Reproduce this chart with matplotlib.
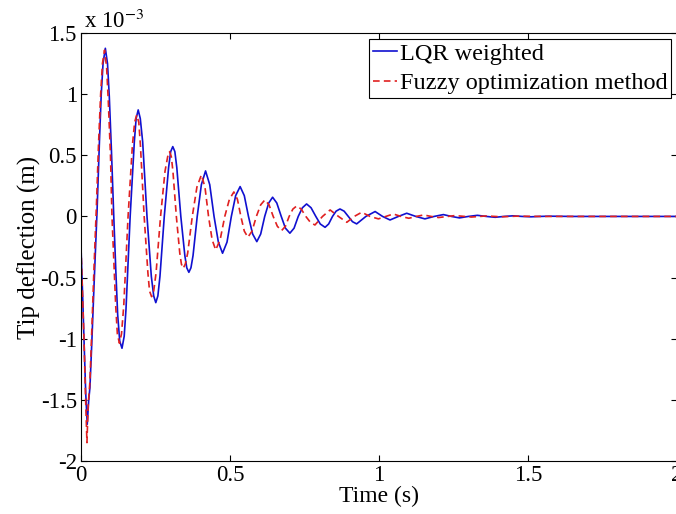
import matplotlib.pyplot as plt

plt.rcParams['font.family'] = ['Liberation Serif', 'DejaVu Serif']
plt.rcParams['mathtext.fontset'] = 'stix'

# values, deflection in units of 1e-3 m
t_lqr = [0.000, 0.006, 0.010, 0.016, 0.021, 0.026, 0.030, 0.036, 0.044, 0.054,
         0.062, 0.068, 0.074, 0.0817, 0.089, 0.095, 0.102, 0.110, 0.117, 0.123,
         0.130, 0.1376, 0.145, 0.151, 0.165, 0.179, 0.185, 0.192, 0.199, 0.207,
         0.2215, 0.236, 0.244, 0.251, 0.258, 0.265, 0.2795, 0.294, 0.301, 0.308,
         0.315, 0.3215, 0.335, 0.3485, 0.355, 0.362, 0.369, 0.376, 0.390,
         0.404, 0.418, 0.432, 0.4465, 0.461, 0.475, 0.490, 0.5045, 0.519, 0.534,
         0.548, 0.562, 0.576, 0.590, 0.603, 0.6165, 0.630, 0.643, 0.657, 0.672,
         0.686, 0.701, 0.715, 0.729, 0.743, 0.757, 0.772, 0.788, 0.803, 0.819,
         0.831, 0.844, 0.856, 0.869, 0.883, 0.897, 0.911, 0.925, 0.956, 0.987,
         1.012, 1.037, 1.065, 1.093, 1.1235, 1.154, 1.185, 1.216, 1.243, 1.270,
         1.300, 1.330, 1.360, 1.390, 1.420, 1.450, 1.480, 1.510, 1.540, 1.570,
         1.650, 2.000]
y_lqr = [-0.25, -0.68, -1.00, -1.45, -1.70, -1.50, -1.40, -1.05, -0.55, 0.05,
         0.62, 1.00, 1.25, 1.375, 1.25, 0.98, 0.55, 0.00, -0.45, -0.80,
         -1.02, -1.078, -0.98, -0.76, 0.00, 0.61, 0.80, 0.871, 0.80, 0.61,
         0.00, -0.49, -0.65, -0.705, -0.65, -0.49, 0.00, 0.40, 0.53, 0.571,
         0.53, 0.40, 0.00, -0.32, -0.42, -0.457, -0.42, -0.32, 0.00,
         0.26, 0.372, 0.26, 0.00, -0.21, -0.301, -0.21, 0.00, 0.17, 0.244,
         0.17, 0.00, -0.144, -0.206, -0.144, 0.00, 0.11, 0.157, 0.11, 0.00,
         -0.096, -0.137, -0.096, 0.00, 0.071, 0.102, 0.071, 0.00, -0.062, -0.089,
         -0.062, 0.00, 0.043, 0.061, 0.043, 0.00, -0.043, -0.061, 0.00, 0.040,
         0.00, -0.029, 0.00, 0.026, 0.00, -0.020, 0.00, 0.015, 0.00, -0.012,
         0.00, 0.009, 0.00, -0.007, 0.00, 0.005, 0.00, -0.003, 0.00, 0.002,
         0.00, 0.00]

t_fuzzy = [0.000, 0.006, 0.010, 0.015, 0.020, 0.024, 0.027, 0.030, 0.036, 0.044,
           0.052, 0.059, 0.066, 0.072, 0.079, 0.086, 0.0915, 0.099, 0.104, 0.1165,
           0.122, 0.129, 0.136, 0.1435, 0.158, 0.1725, 0.180, 0.187, 0.194, 0.1995,
           0.212, 0.2245, 0.230, 0.237, 0.244, 0.252,
           0.267, 0.282, 0.291, 0.297, 0.303, 0.3085, 0.320, 0.3315, 0.337, 0.343,
           0.350, 0.358, 0.3735, 0.389,
           0.404, 0.416, 0.428, 0.440, 0.452, 0.467, 0.4825, 0.498, 0.513, 0.525,
           0.5365, 0.548, 0.560, 0.574, 0.5885, 0.603, 0.617, 0.631, 0.645, 0.659,
           0.673, 0.686, 0.6985, 0.711, 0.724, 0.739, 0.7545, 0.770, 0.785, 0.8105,
           0.836, 0.864, 0.892, 0.917, 0.942, 0.970, 0.998, 1.023, 1.048, 1.074,
           1.100, 1.125, 1.150, 1.175, 1.200, 1.255, 1.310, 1.360, 1.410, 1.460,
           1.550, 2.000]
y_fuzzy = [-0.25, -0.70, -1.00, -1.45, -1.85, -1.55, -1.45, -1.35, -0.95, -0.40,
           0.10, 0.60, 1.00, 1.25, 1.36, 1.22, 0.95, 0.50, 0.00, -0.73,
           -0.96, -1.037, -0.96, -0.73, 0.00, 0.58, 0.77, 0.83, 0.77, 0.58,
           0.00, -0.46, -0.61, -0.656, -0.61, -0.46,
           0.00, 0.37, 0.49, 0.53, 0.49, 0.37, 0.00, -0.30, -0.39, -0.424,
           -0.39, -0.30, 0.00, 0.24,
           0.34, 0.24, 0.00, -0.19, -0.274, -0.19, 0.00, 0.14, 0.20, 0.14,
           0.00, -0.12, -0.17, -0.12, 0.00, 0.095, 0.135, 0.095, 0.00, -0.081,
           -0.116, -0.081, 0.00, 0.06, 0.086, 0.06, 0.00, -0.049, -0.07, 0.00,
           0.053, 0.00, -0.048, 0.00, 0.034, 0.00, -0.020, 0.00, 0.020, 0.00,
           -0.015, 0.00, 0.012, 0.00, -0.009, 0.007, -0.005, 0.004, -0.003, 0.002,
           0.00, 0.00]

fig = plt.figure(figsize=(6.76, 5.14), dpi=100)
ax = fig.add_axes([0.1198, 0.1031, 0.8817, 0.8327])

ax.plot(t_lqr, y_lqr, color='#1010d0', lw=1.2, label='LQR weighted')
ax.plot(t_fuzzy, y_fuzzy, color='#e02020', lw=1.2, ls=(0, (4, 2.5)),
        label='Fuzzy optimization method')

ax.set_xlim(0, 2)
ax.set_ylim(-2, 1.5)
ax.set_xticks([0, 0.5, 1, 1.5, 2])
ax.set_xticklabels(['0', '0.5', '1', '1.5', '2'])
ax.set_yticks([-2, -1.5, -1, -0.5, 0, 0.5, 1, 1.5])
ax.set_yticklabels(['-2', '-1.5', '-1', '-0.5', '0', '0.5', '1', '1.5'])
ax.tick_params(direction='in', length=4, width=0.8, top=True, right=True,
               labelsize=16.5, pad=3)
for s in ax.spines.values():
    s.set_linewidth(0.8)

ax.set_xlabel('Time (s)', fontsize=17, labelpad=0)
ax.set_ylabel('Tip deflection (m)', fontsize=18, labelpad=0)
ax.text(0.005, 1.0, r'x 10$^{-3}$', transform=ax.transAxes, fontsize=16.5,
        va='bottom', ha='left')

leg = ax.legend(loc='upper right', fontsize=17.5, handlelength=1.0,
                handletextpad=0.1, labelspacing=0.3, borderpad=0.15,
                borderaxespad=0.25, fancybox=False, framealpha=1)
leg.get_frame().set_edgecolor('black')
leg.get_frame().set_linewidth(0.8)

fig.savefig('out.png', dpi=100)
